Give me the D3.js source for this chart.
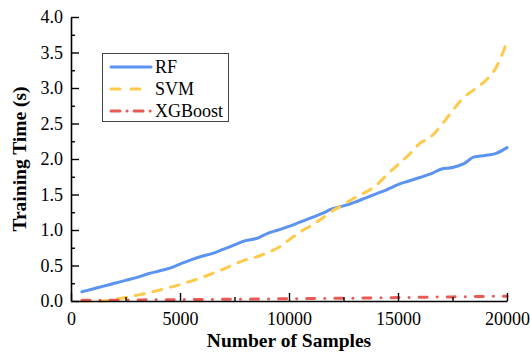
<!DOCTYPE html>
<html><head><meta charset="utf-8">
<script src="https://cdn.jsdelivr.net/npm/d3@7"></script>
<style>body{margin:0;background:#fff}svg{display:block}svg text{font-family:"Liberation Serif","Times New Roman",serif !important;fill:#000}</style>
</head><body><svg id="c" width="530" height="352"></svg>
<script>
const samples = d3.range(500, 20001, 500);
const rfTime = [0.13,0.17,0.21,0.25,0.29,0.33,0.38,0.42,0.46,0.52,0.58,0.63,0.67,0.73,0.79,0.85,0.88,0.95,1.00,1.05,1.11,1.17,1.23,1.30,1.34,1.39,1.45,1.51,1.57,1.64,1.69,1.74,1.79,1.86,1.88,1.93,2.03,2.05,2.08,2.16];
const svmTime = [0.00,0.00,0.00,0.02,0.05,0.08,0.11,0.15,0.19,0.23,0.28,0.33,0.39,0.45,0.52,0.58,0.62,0.68,0.75,0.86,0.97,1.06,1.16,1.27,1.36,1.45,1.53,1.63,1.78,1.92,2.06,2.22,2.31,2.48,2.68,2.86,2.98,3.10,3.29,3.65];
const xgbTime = [0.010,0.011,0.012,0.012,0.014,0.015,0.016,0.017,0.018,0.019,0.020,0.021,0.022,0.024,0.025,0.026,0.027,0.029,0.030,0.031,0.033,0.034,0.036,0.037,0.039,0.040,0.042,0.044,0.046,0.048,0.050,0.052,0.054,0.056,0.058,0.060,0.062,0.064,0.066,0.068];
const xTicks = [0,5000,10000,15000,20000];
const yTicks = [0,0.5,1.0,1.5,2.0,2.5,3.0,3.5,4.0];
const seriesNames = ["RF","SVM","XGBoost"];
const seriesColors = ["#5b93f0","#ffc94a","#ea5a55"];
const seriesDash = [null,"9,9","8,10,0.1,10"];

const svg = d3.select("#c");
const m = {l:71,r:23,t:17,b:51};
const W = 530, H = 352;
const x = d3.scaleLinear().domain([0,20000]).range([m.l, W-m.r]);
const y = d3.scaleLinear().domain([0,4]).range([H-m.b, m.t]);

const seriesData = [rfTime, svmTime, xgbTime];
const line = d3.line().x((d,i)=>x(samples[i])).y(d=>y(d)).curve(d3.curveMonotoneX);
seriesData.forEach((s,k)=>{
  svg.append("path").attr("d", line(s)).attr("fill","none")
    .attr("stroke", seriesColors[k]).attr("stroke-width",3)
    .attr("stroke-linecap","round").attr("stroke-linejoin","round")
    .attr("stroke-dasharray", seriesDash[k]);
});

// axes
const xAxis = d3.axisBottom(x).tickValues(xTicks).tickSizeInner(-8).tickSizeOuter(0).tickPadding(11).tickFormat(d3.format("d"));
svg.append("g").attr("transform",`translate(0,${H-m.b})`).call(xAxis);
const xMinor = d3.axisBottom(x).tickValues(d3.range(2500,20000,5000)).tickSize(-4).tickFormat("");
svg.append("g").attr("transform",`translate(0,${H-m.b})`).call(xMinor).select(".domain").remove();
const yAxis = d3.axisLeft(y).tickValues(yTicks).tickSizeInner(-8).tickSizeOuter(0).tickPadding(8).tickFormat(d3.format(".1f"));
svg.append("g").attr("transform",`translate(${m.l},0)`).call(yAxis);
const yMinor = d3.axisLeft(y).tickValues(d3.range(0.25,4,0.5)).tickSize(-4).tickFormat("");
svg.append("g").attr("transform",`translate(${m.l},0)`).call(yMinor).select(".domain").remove();
svg.selectAll("g").attr("font-family",null);
svg.selectAll(".domain").attr("stroke","#000").attr("stroke-width",1.6);
svg.selectAll(".tick line").attr("stroke","#000").attr("stroke-width",1.4);
svg.selectAll(".tick text").attr("font-size",18).style("font-family","'Liberation Serif', serif");

svg.append("text").attr("x",(m.l+W-m.r)/2).attr("y",347).attr("text-anchor","middle")
  .attr("font-size",19.5).attr("font-weight","bold").text("Number of Samples");
svg.append("text").attr("transform",`translate(26,${(m.t+H-m.b)/2}) rotate(-90)`).attr("text-anchor","middle")
  .attr("font-size",19.5).attr("font-weight","bold").text("Training Time (s)");

// legend
const lg = svg.append("g");
lg.append("rect").attr("x",102.5).attr("y",53.5).attr("width",126).attr("height",68)
  .attr("fill","#fff").attr("stroke","#444").attr("stroke-width",1);
seriesNames.forEach((n,k)=>{
  const cy = 67 + k*22;
  lg.append("line").attr("x1",111).attr("x2",151).attr("y1",cy).attr("y2",cy)
    .attr("stroke",seriesColors[k]).attr("stroke-width",3).attr("stroke-linecap","round")
    .attr("stroke-dasharray", k===1 ? "9,11" : (k===2 ? "9,7,0.1,7" : null));
  lg.append("text").attr("x",155).attr("y",cy+6).attr("font-size",18).text(n);
});
</script></body></html>
